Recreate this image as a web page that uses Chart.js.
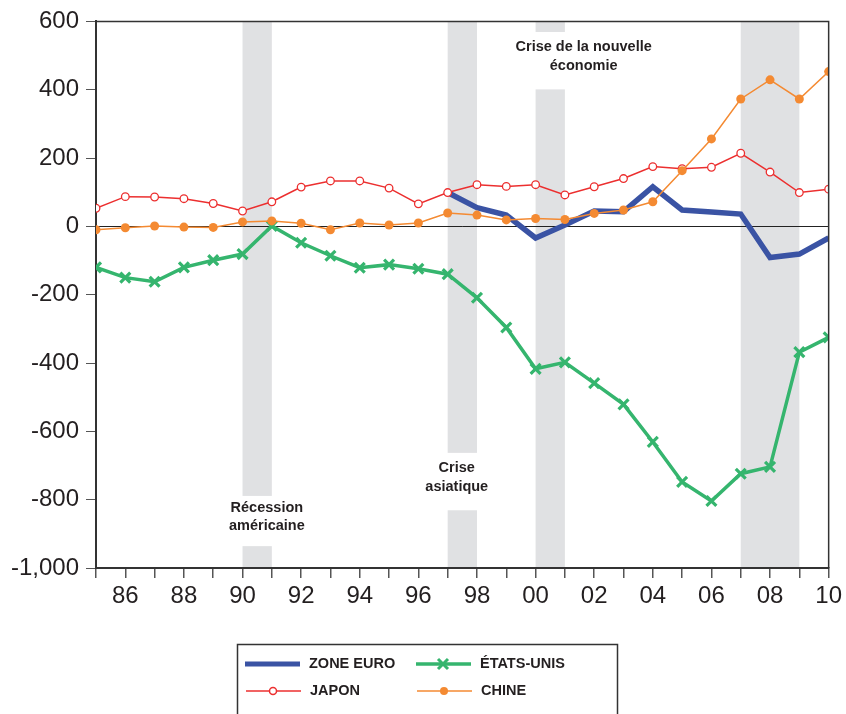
<!DOCTYPE html>
<html>
<head>
<meta charset="utf-8">
<script src="https://cdn.jsdelivr.net/npm/chart.js@4.4.1/dist/chart.umd.min.js"></script>
<style>
  html, body { margin: 0; padding: 0; background: #fff; }
  #wrap { width: 846px; height: 714px; position: relative; }
</style>
</head>
<body>
<div id="wrap"><canvas id="chart"></canvas></div>
<script>
// Données (en milliards de dollars)
const years = [1985, 1986, 1987, 1988, 1989, 1990, 1991, 1992, 1993, 1994, 1995, 1996, 1997,
               1998, 1999, 2000, 2001, 2002, 2003, 2004, 2005, 2006, 2007, 2008, 2009, 2010];
const zoneEuro = [null, null, null, null, null, null, null, null, null, null, null, null, 99,
                  55, 33, -34, 4, 45, 43, 116, 48, 42, 36, -91, -81, -34];
const etatsUnis = [-120, -150, -162, -120, -99, -81, 1, -48, -86, -121, -112, -124, -140,
                   -209, -296, -417, -398, -459, -521, -631, -748, -804, -724, -704, -368, -325];
const japon = [53, 87, 86, 81, 67, 45, 72, 115, 133, 133, 112, 66, 99,
               122, 117, 122, 92, 116, 140, 175, 169, 173, 214, 159, 99, 109];
const chine = [-10, -4, 1, -2, -3, 13, 16, 9, -10, 10, 4, 10, 39,
               33, 19, 23, 20, 38, 48, 72, 163, 256, 373, 429, 373, 453];
const yTicks = [600, 400, 200, 0, -200, -400, -600, -800, -1000];
const yTickLabels = ['600', '400', '200', '0', '-200', '-400', '-600', '-800', '-1,000'];
const xTickLabels = ['86', '88', '90', '92', '94', '96', '98', '00', '02', '04', '06', '08', '10'];

// Périodes grisées et annotations
const bandes = [[1990, 1991], [1997, 1998], [2000, 2001], [2007, 2009]];
const annotations = [
    { bande: 0, x: 1990.83, from: -789, to: -936, lines: ['Récession', 'américaine'] },
    { bande: 1, x: 1997.31, from: -663, to: -831, lines: ['Crise', 'asiatique'] },
    { bande: 2, x: 2001.64, from: 569, to: 401, lines: ['Crise de la nouvelle', 'économie'] }
];

const BLEU = '#3a53a4';
const VERT = '#35b56e';
const ROUGE = '#ec2f2f';
const ORANGE = '#f48a32';
const FONT = '"Liberation Sans", Arial, Helvetica, sans-serif';

function toPoints(values) {
    return years.map((y, i) => ({ x: y, y: values[i] }));
}

// Bandes grisées + texte des crises
const bandesPlugin = {
    id: 'bandes',
    beforeDraw(chart) {
        const ctx = chart.ctx;
        const xs = chart.scales.x, ys = chart.scales.y;
        const area = chart.chartArea;
        ctx.save();
        ctx.fillStyle = '#e0e1e3';
        bandes.forEach(b => {
            const x0 = xs.getPixelForValue(b[0]);
            const x1 = xs.getPixelForValue(b[1]);
            ctx.fillRect(x0, area.top, x1 - x0, area.bottom - area.top);
        });
        // on efface la bande derrière les textes
        ctx.fillStyle = '#fff';
        annotations.forEach(a => {
            const b = bandes[a.bande];
            const x0 = xs.getPixelForValue(b[0]);
            const x1 = xs.getPixelForValue(b[1]);
            const y0 = ys.getPixelForValue(a.from);
            const y1 = ys.getPixelForValue(a.to);
            ctx.fillRect(x0 - 1, y0, x1 - x0 + 2, y1 - y0);
        });
        ctx.fillStyle = '#231f20';
        ctx.font = 'bold 14.5px ' + FONT;
        ctx.textAlign = 'center';
        ctx.textBaseline = 'middle';
        annotations.forEach(a => {
            const y0 = ys.getPixelForValue(a.from);
            const y1 = ys.getPixelForValue(a.to);
            const mid = (y0 + y1) / 2 - 4;
            const cx = xs.getPixelForValue(a.x);
            a.lines.forEach((t, i) => {
                ctx.fillText(t, cx, mid + (i - (a.lines.length - 1) / 2) * 18.5);
            });
        });
        ctx.restore();
    },
    afterDatasetsDraw(chart) {
        // cadre haut et droit
        const ctx = chart.ctx;
        const area = chart.chartArea;
        ctx.save();
        ctx.strokeStyle = '#333';
        ctx.lineWidth = 1.5;
        ctx.beginPath();
        ctx.moveTo(area.left, area.top);
        ctx.lineTo(area.right, area.top);
        ctx.lineTo(area.right, area.bottom);
        ctx.stroke();
        ctx.restore();
    }
};

// Légende dessinée à la main (boîte en bas)
const legendePlugin = {
    id: 'legende',
    afterDraw(chart) {
        const ctx = chart.ctx;
        ctx.save();
        ctx.strokeStyle = '#333';
        ctx.lineWidth = 1.5;
        ctx.strokeRect(237.5, 644.5, 380, 80);

        const items = [
            { label: 'ZONE EURO', color: BLEU, width: 5, marker: null, x: 245, y: 664 },
            { label: 'ÉTATS-UNIS', color: VERT, width: 3.5, marker: 'cross', x: 416, y: 664 },
            { label: 'JAPON', color: ROUGE, width: 1.5, marker: 'ring', x: 246, y: 691 },
            { label: 'CHINE', color: ORANGE, width: 1.5, marker: 'dot', x: 417, y: 691 }
        ];
        items.forEach(it => {
            ctx.strokeStyle = it.color;
            ctx.lineWidth = it.width;
            ctx.beginPath();
            ctx.moveTo(it.x, it.y);
            ctx.lineTo(it.x + 55, it.y);
            ctx.stroke();
            const cx = it.x + 27;
            if (it.marker === 'cross') {
                ctx.lineWidth = 3;
                ctx.beginPath();
                ctx.moveTo(cx - 5, it.y - 5); ctx.lineTo(cx + 5, it.y + 5);
                ctx.moveTo(cx - 5, it.y + 5); ctx.lineTo(cx + 5, it.y - 5);
                ctx.stroke();
            } else if (it.marker === 'ring') {
                ctx.fillStyle = '#fff';
                ctx.beginPath();
                ctx.arc(cx, it.y, 3.5, 0, Math.PI * 2);
                ctx.fill();
                ctx.stroke();
            } else if (it.marker === 'dot') {
                ctx.fillStyle = it.color;
                ctx.beginPath();
                ctx.arc(cx, it.y, 4, 0, Math.PI * 2);
                ctx.fill();
            }
            ctx.fillStyle = '#231f20';
            ctx.font = 'bold 14.5px ' + FONT;
            ctx.textAlign = 'left';
            ctx.textBaseline = 'middle';
            ctx.fillText(it.label, it.x + 64, it.y);
        });
        ctx.restore();
    }
};

const ctx = document.getElementById('chart').getContext('2d');
const chart = new Chart(ctx, {
    type: 'line',
    data: {
        datasets: [
            {
                label: 'CHINE',
                data: toPoints(chine),
                borderColor: ORANGE,
                backgroundColor: ORANGE,
                borderWidth: 1.5,
                pointStyle: 'circle',
                pointRadius: 4.5,
                pointBorderWidth: 0,
                pointBackgroundColor: ORANGE,
                order: 0
            },
            {
                label: 'JAPON',
                data: toPoints(japon),
                borderColor: ROUGE,
                backgroundColor: '#fff',
                borderWidth: 1.5,
                pointStyle: 'circle',
                pointRadius: 3.8,
                pointBorderWidth: 1.3,
                pointBackgroundColor: '#fff',
                order: 1
            },
            {
                label: 'ÉTATS-UNIS',
                data: toPoints(etatsUnis),
                borderColor: VERT,
                backgroundColor: VERT,
                borderWidth: 3.5,
                pointStyle: 'crossRot',
                pointRadius: 7,
                pointBorderWidth: 3.2,
                order: 2
            },
            {
                label: 'ZONE EURO',
                data: toPoints(zoneEuro),
                borderColor: BLEU,
                backgroundColor: BLEU,
                borderWidth: 5.5,
                pointRadius: 0,
                spanGaps: false,
                order: 3
            }
        ]
    },
    options: {
        responsive: true,
        maintainAspectRatio: false,
        animation: false,
        clip: 0,
        layout: { padding: { top: 20, right: 17, bottom: 0, left: 0 } },
        plugins: {
            legend: { display: false },
            tooltip: { enabled: false }
        },
        elements: { line: { tension: 0 } },
        scales: {
            x: {
                type: 'linear',
                min: 1985,
                max: 2010,
                afterBuildTicks(scale) {
                    scale.ticks = years.map(v => ({ value: v }));
                },
                afterFit(scale) { scale.height = 146; },
                border: { display: true, color: '#333', width: 2 },
                grid: {
                    drawOnChartArea: false,
                    drawTicks: true,
                    tickLength: 10,
                    tickColor: '#555',
                    lineWidth: 1.5
                },
                ticks: {
                    autoSkip: false,
                    maxRotation: 0,
                    padding: 4,
                    color: '#231f20',
                    font: { family: FONT, size: 24 },
                    callback(value) {
                        const i = (value - 1986) / 2;
                        return Number.isInteger(i) ? xTickLabels[i] : '';
                    }
                }
            },
            y: {
                min: -1000,
                max: 600,
                afterBuildTicks(scale) {
                    scale.ticks = yTicks.map(v => ({ value: v }));
                },
                afterFit(scale) { scale.width = 96; },
                border: { display: true, color: '#333', width: 2 },
                grid: {
                    drawOnChartArea: true,
                    color: c => (c.tick && c.tick.value === 0) ? '#222' : 'rgba(0,0,0,0)',
                    lineWidth: 1,
                    tickLength: 10,
                    tickColor: '#555'
                },
                ticks: {
                    padding: 7,
                    color: '#231f20',
                    font: { family: FONT, size: 24 },
                    callback(value) {
                        return yTickLabels[yTicks.indexOf(value)];
                    }
                }
            }
        }
    },
    plugins: [bandesPlugin, legendePlugin]
});
</script>
</body>
</html>
